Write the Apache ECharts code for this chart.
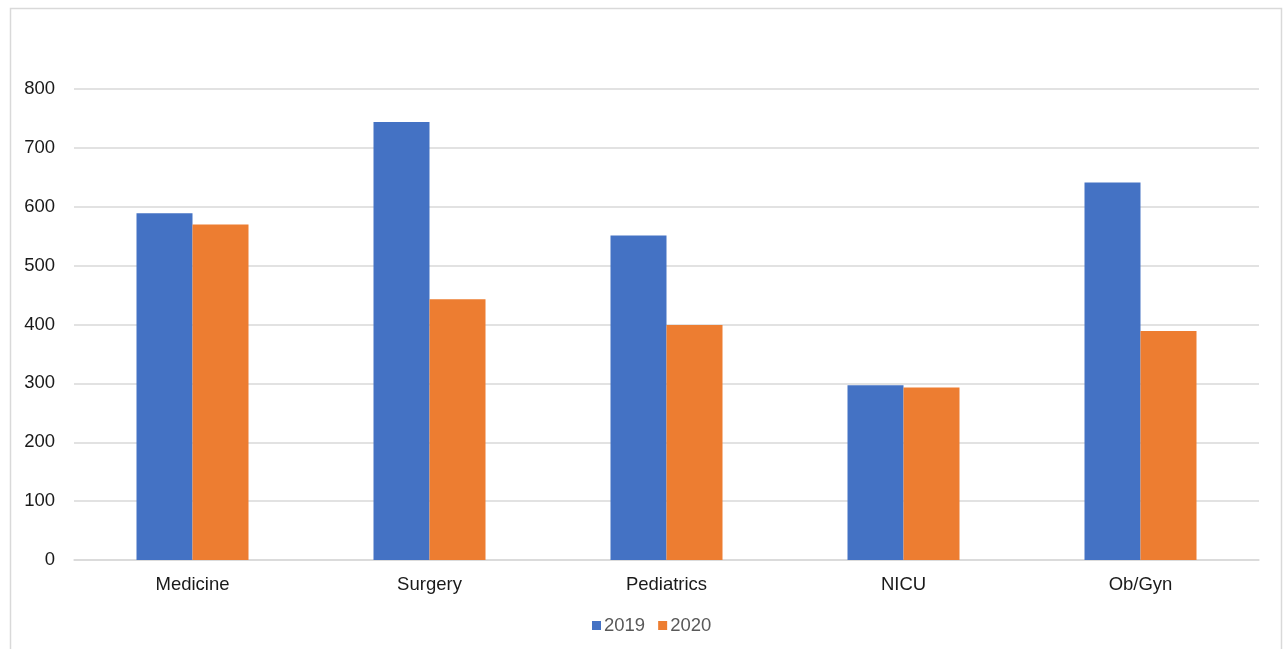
<!DOCTYPE html>
<html>
<head>
<meta charset="utf-8">
<script src="https://cdn.jsdelivr.net/npm/echarts@6/dist/echarts.min.js"></script>
<style>
  html, body { margin: 0; padding: 0; background: #ffffff; }
  #chart { width: 1287px; height: 649px; }
</style>
</head>
<body>
<div id="chart"></div>
<script>
// Admissions by service, 2019 vs 2020
const categories = ['Medicine', 'Surgery', 'Pediatrics', 'NICU', 'Ob/Gyn'];
const values2019 = [589, 744, 551, 297, 641];
const values2020 = [570, 443, 399, 293, 389];
const yTicks = { min: 0, max: 800, interval: 100 };

const chart = echarts.init(document.getElementById('chart'), null, { renderer: 'canvas' });

const labelFont = { fontFamily: 'Liberation Sans, Arial, sans-serif', fontSize: 18.5, color: '#1a1a1a' };

chart.setOption({
  animation: false,
  backgroundColor: '#ffffff',
  graphic: [{
    type: 'rect',
    shape: { x: 10.5, y: 8.5, width: 1271, height: 700 },
    style: { fill: 'none', stroke: '#d9d9d9', lineWidth: 1.5 },
    silent: true
  }],
  grid: { left: 74, right: 28, top: 89, bottom: 89, containLabel: false },
  legend: {
    data: ['2019', '2020'],
    bottom: 9,
    left: 587,
    itemWidth: 9,
    itemHeight: 9,
    itemGap: 13,
    icon: 'rect',
    textStyle: { fontFamily: 'Liberation Sans, Arial, sans-serif', fontSize: 18.5, color: '#595959', padding: [0, 0, 0, -2] }
  },
  xAxis: {
    type: 'category',
    data: categories,
    axisLine: { show: true, lineStyle: { color: '#d9d9d9', width: 1.5 } },
    axisTick: { show: false },
    axisLabel: Object.assign({ margin: 15 }, labelFont)
  },
  yAxis: {
    type: 'value',
    min: yTicks.min,
    max: yTicks.max,
    interval: yTicks.interval,
    axisLine: { show: false },
    axisTick: { show: false },
    splitLine: { lineStyle: { color: '#d9d9d9', width: 1.5 } },
    axisLabel: Object.assign({ margin: 19 }, labelFont)
  },
  series: [
    {
      name: '2019',
      type: 'bar',
      data: values2019,
      barWidth: 56,
      barGap: '0%',
      itemStyle: { color: '#4472c4' }
    },
    {
      name: '2020',
      type: 'bar',
      data: values2020,
      barWidth: 56,
      barGap: '0%',
      itemStyle: { color: '#ed7d31' }
    }
  ]
});
</script>
</body>
</html>
